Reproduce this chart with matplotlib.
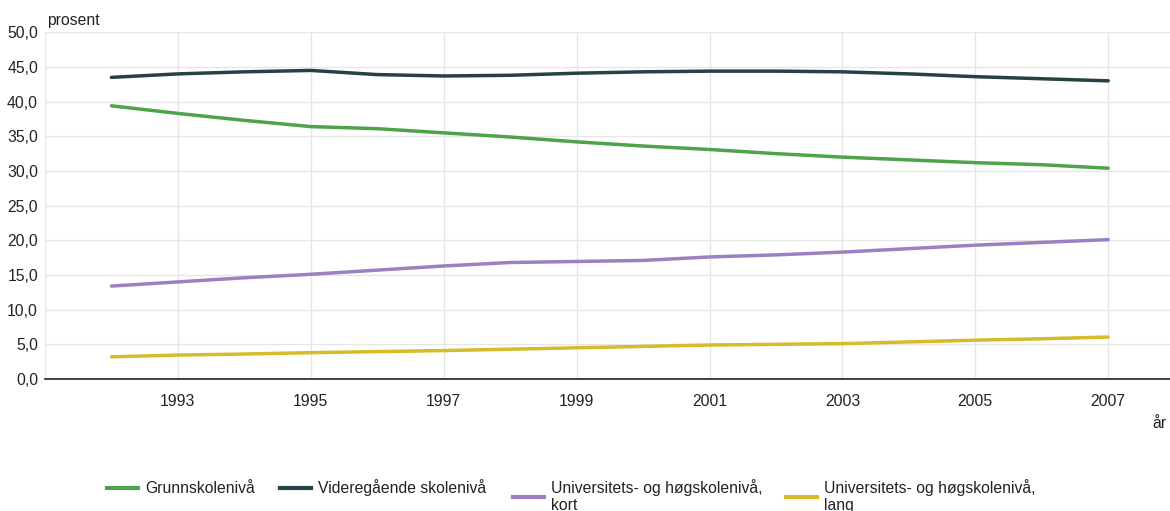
import matplotlib
matplotlib.use("Agg")
import matplotlib.pyplot as plt
from matplotlib.lines import Line2D
from matplotlib.ticker import FuncFormatter, FixedLocator

plt.rcParams['font.family'] = ['Liberation Sans', 'DejaVu Sans']

years = list(range(1992, 2008))
grunnskole = [39.4, 38.3, 37.3, 36.4, 36.1, 35.5, 34.9, 34.2, 33.6, 33.1, 32.5, 32.0, 31.6, 31.2, 30.9, 30.4]
videregaaende = [43.5, 44.0, 44.3, 44.5, 43.9, 43.7, 43.8, 44.1, 44.3, 44.4, 44.4, 44.3, 44.0, 43.6, 43.3, 43.0]
uni_kort = [13.4, 14.0, 14.6, 15.1, 15.7, 16.3, 16.8, 16.95, 17.1, 17.6, 17.9, 18.3, 18.8, 19.3, 19.7, 20.1]
uni_lang = [3.2, 3.45, 3.6, 3.8, 3.95, 4.1, 4.3, 4.5, 4.7, 4.9, 5.0, 5.1, 5.35, 5.6, 5.8, 6.05]

labels = ["Grunnskolenivå", "Videregående skolenivå",
          "Universitets- og høgskolenivå,\nkort", "Universitets- og høgskolenivå,\nlang"]
colors = ["#4da24b", "#274247", "#9b80c2", "#d5bc28"]
xticks = [1993, 1995, 1997, 1999, 2001, 2003, 2005, 2007]

W, H = 1170, 511
FS = 11.3
TXT = "#222222"

fig = plt.figure(figsize=(W / 100, H / 100), dpi=100)
ax = fig.add_axes([45 / W, 1 - 379 / H, 1 - 45 / W, (379 - 32.3) / H])

for series, lab, col in zip([grunnskole, videregaaende, uni_kort, uni_lang], labels, colors):
    ax.plot(years, series, color=col, lw=2.5, label=lab, solid_capstyle='round', zorder=3)

ax.set_xlim(1991, 2007.93)
ax.set_ylim(0, 50)
ax.yaxis.set_major_locator(FixedLocator([0, 5, 10, 15, 20, 25, 30, 35, 40, 45, 50]))
ax.yaxis.set_major_formatter(FuncFormatter(lambda v, p: f"{v:.1f}".replace(".", ",")))
ax.xaxis.set_major_locator(FixedLocator(xticks))
ax.xaxis.set_major_formatter(FuncFormatter(lambda v, p: f"{int(round(v))}"))

ax.grid(True, color="#e6e6e6", lw=1, zorder=0)
ax.axvline(1991, color="#e6e6e6", lw=1, zorder=0)
for s in ["top", "right", "left"]:
    ax.spines[s].set_visible(False)
ax.spines["bottom"].set_color(TXT)
ax.spines["bottom"].set_linewidth(1.2)
ax.tick_params(axis="both", length=0, labelsize=FS, colors=TXT)
ax.tick_params(axis="y", pad=5)
ax.tick_params(axis="x", pad=11)

fig.text(47 / W, 1 - 20 / H, "prosent", fontsize=FS, color=TXT, va="center", ha="left")
fig.text(1152 / W, 1 - 424 / H, "år", fontsize=FS, color=TXT, va="center", ha="left")

# Legend drawn manually: (handle start x, handle y, text x, baseline y of last line) in pixels
legend_pos = [(107, 488, 145, 493), (280, 488, 318, 493), (513, 497, 551, 510), (786, 497, 824, 510)]
for (hx, hy, tx, by), lab, col in zip(legend_pos, labels, colors):
    fig.add_artist(Line2D([hx / W, (hx + 31) / W], [1 - hy / H, 1 - hy / H],
                          transform=fig.transFigure, color=col, lw=3))
    fig.text(tx / W, 1 - by / H, lab, fontsize=FS, color=TXT, va="baseline", ha="left",
             linespacing=1.2)

fig.savefig("out.png", dpi=100)
